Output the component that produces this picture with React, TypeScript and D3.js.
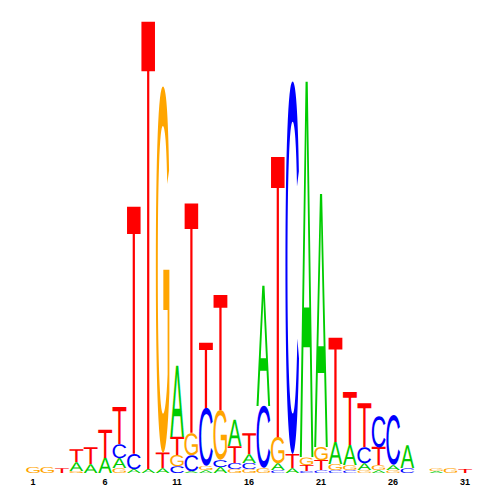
import React, { useMemo } from "react";
import * as d3 from "d3";

// information content (bits) per position
const positions = d3.range(1, 32);
const A_bits = [0, 0, 0, 0.040, 0.040, 0.067, 0.044, 0.018, 0.018, 0.022, 0.315, 0.009, 0.013, 0.027, 0.115, 0.040, 0.532, 0.031, 0.022, 1.663, 1.122, 0.098, 0.089, 0.031, 0.013, 0.022, 0.102, 0, 0.009, 0, 0];
const C_bits = [0, 0, 0, 0, 0, 0, 0.062, 0.067, 0, 0, 0.031, 0.071, 0.257, 0.031, 0.027, 0.027, 0.275, 0.013, 1.650, 0.009, 0.013, 0.013, 0.013, 0.071, 0.137, 0.222, 0.022, 0, 0, 0, 0];
const G_bits = [0.027, 0.027, 0, 0.009, 0, 0, 0.022, 0, 0, 1.623, 0.049, 0.098, 0.018, 0.222, 0.018, 0.018, 0.022, 0.115, 0, 0.035, 0.058, 0.027, 0.022, 0.013, 0.022, 0.013, 0, 0, 0.013, 0.022, 0];
const T_bits = [0, 0, 0.022, 0.058, 0.075, 0.124, 0.164, 1.095, 1.982, 0.067, 0.080, 1.016, 0.288, 0.510, 0.075, 0.093, 0, 1.242, 0.062, 0.027, 0.044, 0.461, 0.235, 0.195, 0.080, 0, 0, 0, 0, 0, 0.018];
const tickLabels = [1, 6, 11, 16, 21, 26, 31];

const letterColors: Record<string, string> = {
  A: "#00cc00",
  C: "#0000ff",
  G: "#ffa500",
  T: "#ff0000",
};

const FONT = "'Liberation Sans', Arial, Helvetica, sans-serif";
const FS = 1000;

// measure ink bounds by rasterising each letter and scanning the pixels
function measure() {
  const size = 400;
  const base = 200;
  const canvas = document.createElement("canvas");
  canvas.width = 1000;
  canvas.height = 1000;
  const ctx = canvas.getContext("2d")!;
  const out: Record<string, { left: number; right: number; asc: number; desc: number }> = {};
  for (const l of ["A", "C", "G", "T"]) {
    ctx.clearRect(0, 0, 1000, 1000);
    ctx.font = `normal ${size}px ${FONT}`;
    ctx.fillStyle = "#000";
    ctx.textBaseline = "alphabetic";
    ctx.fillText(l, base, 700);
    const img = ctx.getImageData(0, 0, 1000, 1000).data;
    let minX = 1e9, maxX = -1, minY = 1e9, maxY = -1;
    for (let yy = 0; yy < 1000; yy++) {
      for (let xx = 0; xx < 1000; xx++) {
        if (img[(yy * 1000 + xx) * 4 + 3] > 127) {
          if (xx < minX) minX = xx;
          if (xx > maxX) maxX = xx;
          if (yy < minY) minY = yy;
          if (yy > maxY) maxY = yy;
        }
      }
    }
    const k = FS / size;
    if (maxX < 0) {
      const m = ctx.measureText(l);
      out[l] = {
        left: m.actualBoundingBoxLeft * k,
        right: m.actualBoundingBoxRight * k,
        asc: m.actualBoundingBoxAscent * k,
        desc: m.actualBoundingBoxDescent * k,
      };
    } else {
      out[l] = {
        left: (base - minX) * k,
        right: (maxX + 1 - base) * k,
        asc: (700 - minY) * k,
        desc: (maxY + 1 - 700) * k,
      };
    }
  }
  return out;
}

export default function App() {
  const metrics = useMemo(measure, []);
  const x = d3.scaleLinear().domain([1, 31]).range([33, 465]);
  const y = d3.scaleLinear().domain([0, 2]).range([473, 22]);
  const colW = x(2) - x(1);
  const glyphW = colW * 0.94;

  const glyphs: React.ReactNode[] = [];
  positions.forEach((p, i) => {
    const stack = [
      { l: "A", v: A_bits[i] },
      { l: "C", v: C_bits[i] },
      { l: "G", v: G_bits[i] },
      { l: "T", v: T_bits[i] },
    ]
      .filter((d) => d.v > 0)
      .sort((a, b) => a.v - b.v);
    let cum = 0;
    const x0 = x(p) - glyphW / 2;
    stack.forEach((d) => {
      const yBot = y(cum);
      const yTop = y(cum + d.v);
      cum += d.v;
      const H = yBot - yTop;
      const m = metrics[d.l];
      const inkW = m.left + m.right;
      const inkH = m.asc + m.desc;
      glyphs.push(
        <text
          key={`${p}-${d.l}`}
          transform={`translate(${x0},${yBot}) scale(${glyphW / inkW},${H / inkH})`}
          x={m.left}
          y={-m.desc}
          fontFamily={FONT}
          fontWeight="normal"
          fontSize={FS}
          textRendering="geometricPrecision"
          fill={letterColors[d.l]}
        >
          {d.l}
        </text>
      );
    });
  });

  return (
    <svg
      width={500}
      height={500}
      style={{ position: "absolute", left: 0, top: 0, background: "#fff" }}
    >
      <rect width={500} height={500} fill="#fff" />
      <g>{glyphs}</g>
      <g>
        {tickLabels.map((t) => (
          <text
            key={t}
            x={x(t)}
            y={484.5}
            textAnchor="middle"
            fontFamily={FONT}
            fontWeight="bold"
            fontSize={9}
            fill="#000"
          >
            {t}
          </text>
        ))}
      </g>
    </svg>
  );
}
